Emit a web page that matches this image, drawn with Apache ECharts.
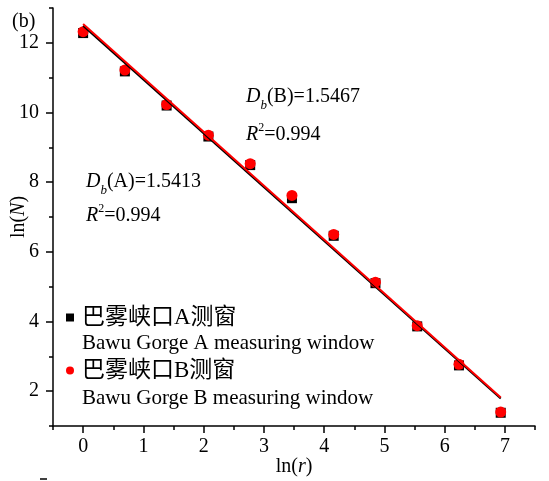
<!DOCTYPE html>
<html>
<head>
<meta charset="utf-8">
<script src="https://cdn.jsdelivr.net/npm/echarts@6/dist/echarts.min.js"></script>
<style>html,body{margin:0;padding:0;background:#fff;}#c{width:549px;height:481px;}</style>
</head>
<body>
<div id="c"></div>
<script>
// ---- data ----
const lnR = [0, 0.693, 1.386, 2.079, 2.773, 3.466, 4.159, 4.852, 5.545, 6.238, 6.931];
const lnN_A = [12.28, 11.18, 10.20, 9.31, 8.49, 7.54, 6.46, 5.10, 3.86, 2.74, 1.38];
const lnN_B = [12.32, 11.22, 10.23, 9.35, 8.53, 7.62, 6.50, 5.13, 3.88, 2.77, 1.40];
const seriesNames = ['巴雾峡口A测窗', '巴雾峡口B测窗'];
const seriesNamesEn = ['Bawu Gorge A measuring window', 'Bawu Gorge B measuring window'];
const xTicks = [0, 1, 2, 3, 4, 5, 6, 7];
const xMinorTicks = [-0.5, 0.5, 1.5, 2.5, 3.5, 4.5, 5.5, 6.5, 7.5];
const yTicks = [2, 4, 6, 8, 10, 12];
const yMinorTicks = [1, 3, 5, 7, 9, 11, 13];
const fitTextA = ['1.5413', '0.994'];
const fitTextB = ['1.5467', '0.994'];

function linFit(xs, ys) {
  const n = xs.length;
  const mx = xs.reduce((a, b) => a + b, 0) / n;
  const my = ys.reduce((a, b) => a + b, 0) / n;
  let sxy = 0, sxx = 0;
  for (let i = 0; i < n; i++) { sxy += (xs[i] - mx) * (ys[i] - my); sxx += (xs[i] - mx) * (xs[i] - mx); }
  const k = sxy / sxx;
  return { k: k, b: my - k * mx };
}
function fitLine(xs, ys) {
  const f = linFit(xs, ys);
  const x0 = xs[0], x1 = xs[xs.length - 1];
  return [[x0, f.b + f.k * x0], [x1, f.b + f.k * x1]];
}
const pairs = (xs, ys) => xs.map((x, i) => [x, ys[i]]);

const FONT = '"Liberation Serif", "Noto Sans CJK SC", serif';
const axisLineStyle = { color: '#000', width: 1.5 };

function dbText(letter, val) {
  return {
    text: '{i|D}{s|b}{n|(' + letter + ')=' + val + '}',
    rich: {
      i: { fontFamily: FONT, fontSize: 20, fontStyle: 'italic', lineHeight: 30, fill: '#000' },
      s: { fontFamily: FONT, fontSize: 13, fontStyle: 'italic', lineHeight: 14, verticalAlign: 'bottom', fill: '#000' },
      n: { fontFamily: FONT, fontSize: 20, lineHeight: 30, fill: '#000' }
    }
  };
}
function r2Text(val) {
  return {
    text: '{i|R}{s|2}{n|=' + val + '}',
    rich: {
      i: { fontFamily: FONT, fontSize: 20, fontStyle: 'italic', lineHeight: 26, fill: '#000' },
      s: { fontFamily: FONT, fontSize: 12, lineHeight: 14, verticalAlign: 'top', fill: '#000' },
      n: { fontFamily: FONT, fontSize: 20, lineHeight: 26, fill: '#000' }
    }
  };
}
function textEl(x, y, st) {
  return { type: 'text', x: x, y: y, style: Object.assign({ verticalAlign: 'middle', align: 'left' }, st) };
}

const chart = echarts.init(document.getElementById('c'), null, { renderer: 'canvas' });
chart.setOption({
  backgroundColor: '#fff',
  animation: false,
  grid: { left: 53, right: 14, top: 8, bottom: 55, containLabel: false, outerBoundsMode: 'none' },
  xAxis: [
    {
      type: 'value', min: -0.5, max: 7.5,
      axisLine: { show: true, lineStyle: axisLineStyle, onZero: false },
      axisTick: { show: true, customValues: xTicks, length: 7, lineStyle: { color: '#000', width: 1.5 } },
      axisLabel: { customValues: xTicks, margin: 11, color: '#000', fontFamily: FONT, fontSize: 20 },
      splitLine: { show: false },
      name: 'ln({i|r})', nameLocation: 'middle', nameGap: 31, nameMoveOverlap: false,
      nameTextStyle: { color: '#000', fontFamily: FONT, fontSize: 20,
        rich: { i: { fontFamily: FONT, fontSize: 20, fontStyle: 'italic', color: '#000' } } }
    },
    {
      type: 'value', min: -0.5, max: 7.5, position: 'bottom',
      axisLine: { show: false, onZero: false },
      axisTick: { show: true, customValues: xMinorTicks, length: 4, lineStyle: { color: '#000', width: 1.5 } },
      axisLabel: { show: false },
      splitLine: { show: false }
    }
  ],
  yAxis: [
    {
      type: 'value', min: 1, max: 13,
      axisLine: { show: true, lineStyle: axisLineStyle, onZero: false },
      axisTick: { show: true, customValues: yTicks, length: 7, lineStyle: { color: '#000', width: 1.5 } },
      axisLabel: { customValues: yTicks, margin: 14, color: '#000', fontFamily: FONT, fontSize: 20 },
      splitLine: { show: false },
      name: 'ln({i|N})', nameLocation: 'middle', nameGap: 24, nameMoveOverlap: false,
      nameTextStyle: { color: '#000', fontFamily: FONT, fontSize: 20,
        rich: { i: { fontFamily: FONT, fontSize: 20, fontStyle: 'italic', color: '#000' } } }
    },
    {
      type: 'value', min: 1, max: 13, position: 'left',
      axisLine: { show: false, onZero: false },
      axisTick: { show: true, customValues: yMinorTicks, length: 4, lineStyle: { color: '#000', width: 1.5 } },
      axisLabel: { show: false },
      splitLine: { show: false }
    }
  ],
  legend: {
    orient: 'vertical', left: 66, top: 306, padding: 0,
    itemWidth: 8, itemHeight: 8, itemGap: 30,
    textStyle: { color: '#000', fontFamily: FONT, fontSize: 23, padding: [0, 0, 8, 3] },
    data: [
      { name: seriesNames[0], icon: 'rect', itemStyle: { color: '#000' } },
      { name: seriesNames[1], icon: 'circle', itemStyle: { color: '#ff0000' } }
    ]
  },
  graphic: [
    textEl(12, 22, { text: '(b)', font: '20px ' + FONT, fill: '#000' }),
    textEl(86, 182, dbText('A', fitTextA[0])),
    textEl(86, 216, r2Text(fitTextA[1])),
    textEl(246, 97, dbText('B', fitTextB[0])),
    textEl(246, 135, r2Text(fitTextB[1])),
    textEl(82, 343, { text: seriesNamesEn[0], font: '21px ' + FONT, fill: '#000' }),
    textEl(82, 398, { text: seriesNamesEn[1], font: '21px ' + FONT, fill: '#000' }),
    { type: 'line', shape: { x1: 40, y1: 479, x2: 47, y2: 479 }, style: { stroke: '#000', lineWidth: 1.5 } }
  ],
  series: [
    {
      name: seriesNames[0], type: 'scatter', xAxisIndex: 0, yAxisIndex: 0,
      symbol: 'rect', symbolSize: 10, itemStyle: { color: '#000', opacity: 1 },
      data: pairs(lnR, lnN_A), z: 2
    },
    {
      name: seriesNames[1], type: 'scatter', xAxisIndex: 0, yAxisIndex: 0,
      symbol: 'circle', symbolSize: 11, itemStyle: { color: '#ff0000', opacity: 1 },
      data: pairs(lnR, lnN_B), z: 3
    },
    {
      name: 'fitA', type: 'line', xAxisIndex: 0, yAxisIndex: 0, showSymbol: false, symbol: 'none',
      lineStyle: { color: '#000', width: 2 }, data: fitLine(lnR, lnN_A), z: 4, silent: true
    },
    {
      name: 'fitB', type: 'line', xAxisIndex: 0, yAxisIndex: 0, showSymbol: false, symbol: 'none',
      lineStyle: { color: '#ff0000', width: 2 }, data: fitLine(lnR, lnN_B), z: 5, silent: true
    }
  ]
});
</script>
</body>
</html>
